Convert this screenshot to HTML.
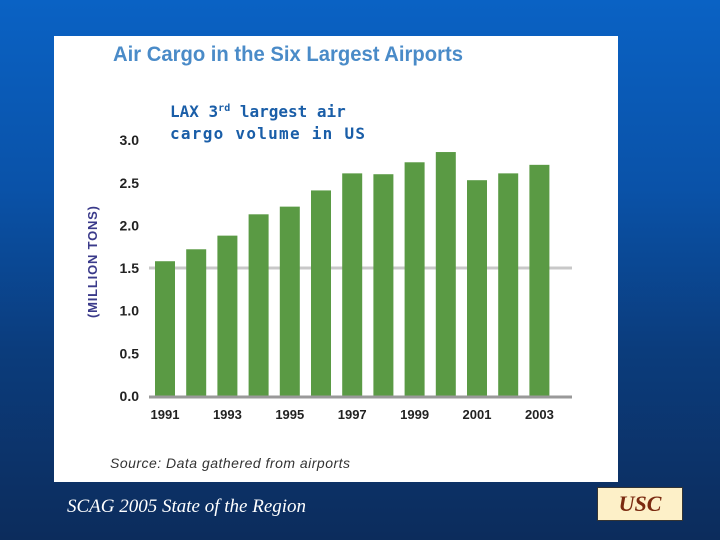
<!DOCTYPE html>
<html><head><meta charset="utf-8"><style>
html,body{margin:0;padding:0}
body{width:720px;height:540px;position:relative;overflow:hidden;font-family:"Liberation Sans",sans-serif;
background:linear-gradient(180deg,#0a62c4 0%,#0a52a8 35%,#0b3c7c 65%,#0c2c5c 100%);}
.abs{position:absolute}
</style></head><body>
<div class="abs" style="left:54px;top:36px;width:564px;height:446px;background:#fff"></div>
<svg class="abs" style="left:0;top:0" width="720" height="540">
<text x="113" y="61" font-size="21" font-weight="bold" fill="#4a8bc8" textLength="350" lengthAdjust="spacingAndGlyphs">Air Cargo in the Six Largest Airports</text>
<text x="170" y="117" font-size="16" font-weight="bold" fill="#1a5ea8" font-family="DejaVu Sans Mono, Liberation Mono, monospace">LAX 3<tspan font-size="10" dy="-6">rd</tspan><tspan dy="6"> largest air</tspan></text>
<text x="170" y="139" font-size="16" font-weight="bold" fill="#1a5ea8" font-family="DejaVu Sans Mono, Liberation Mono, monospace" textLength="195">cargo volume in US</text>
<text transform="translate(97,262) rotate(-90)" text-anchor="middle" font-size="13" font-weight="bold" fill="#3a3a8a" textLength="112">(MILLION TONS)</text>
<text x="110" y="468" font-size="14" font-style="italic" fill="#333" textLength="240">Source: Data gathered from airports</text>
<g id="g"></g>
</svg>
<div class="abs" style="left:67px;top:496px;color:#fff;font:italic 19px 'Liberation Serif',serif">SCAG 2005 State of the Region</div>
<div class="abs" style="left:597px;top:487px;width:86px;height:34px;background:#fdf0c8;border:1px solid #333;box-sizing:border-box;text-align:center;color:#7a2a10;font:italic bold 22px/32px 'Liberation Serif',serif">USC</div>
<script>
const years=["1991","1992","1993","1994","1995","1996","1997","1998","1999","2000","2001","2002","2003"];
const values=[1.58,1.72,1.88,2.13,2.22,2.41,2.61,2.60,2.74,2.86,2.53,2.61,2.71];
const yTicks=[0,0.5,1,1.5,2,2.5,3];
const yearLabels=["1991","1993","1995","1997","1999","2001","2003"];
const ns="http://www.w3.org/2000/svg",g=document.getElementById('g');
const y=v=>396-v*85.3, x=i=>165+i*31.2;
function mk(t,a){const e=document.createElementNS(ns,t);for(const k in a)e.setAttribute(k,a[k]);g.appendChild(e);return e;}
let gl=mk('line',{x1:149,x2:572,y1:y(1.5),y2:y(1.5),stroke:'#c8c8c8','stroke-width':3});


values.forEach((v,i)=>{const r=mk('rect',{x:x(i)-10,y:y(v),width:20,height:y(0)-y(v),fill:'#5a9a44'});

});
let bl=mk('line',{x1:149,x2:572,y1:y(0)+1,y2:y(0)+1,stroke:'#999','stroke-width':3});


yTicks.forEach(t=>{const e=mk('text',{x:139,y:y(t)+5,'text-anchor':'end','font-size':14,'font-weight':'bold',fill:'#222'});e.textContent=t.toFixed(1);

});
yearLabels.forEach(l=>{const i=years.indexOf(l);const e=mk('text',{x:x(i),y:419,'text-anchor':'middle','font-size':13,'font-weight':'bold',fill:'#222'});e.textContent=l;

});
</script>
</body></html>
